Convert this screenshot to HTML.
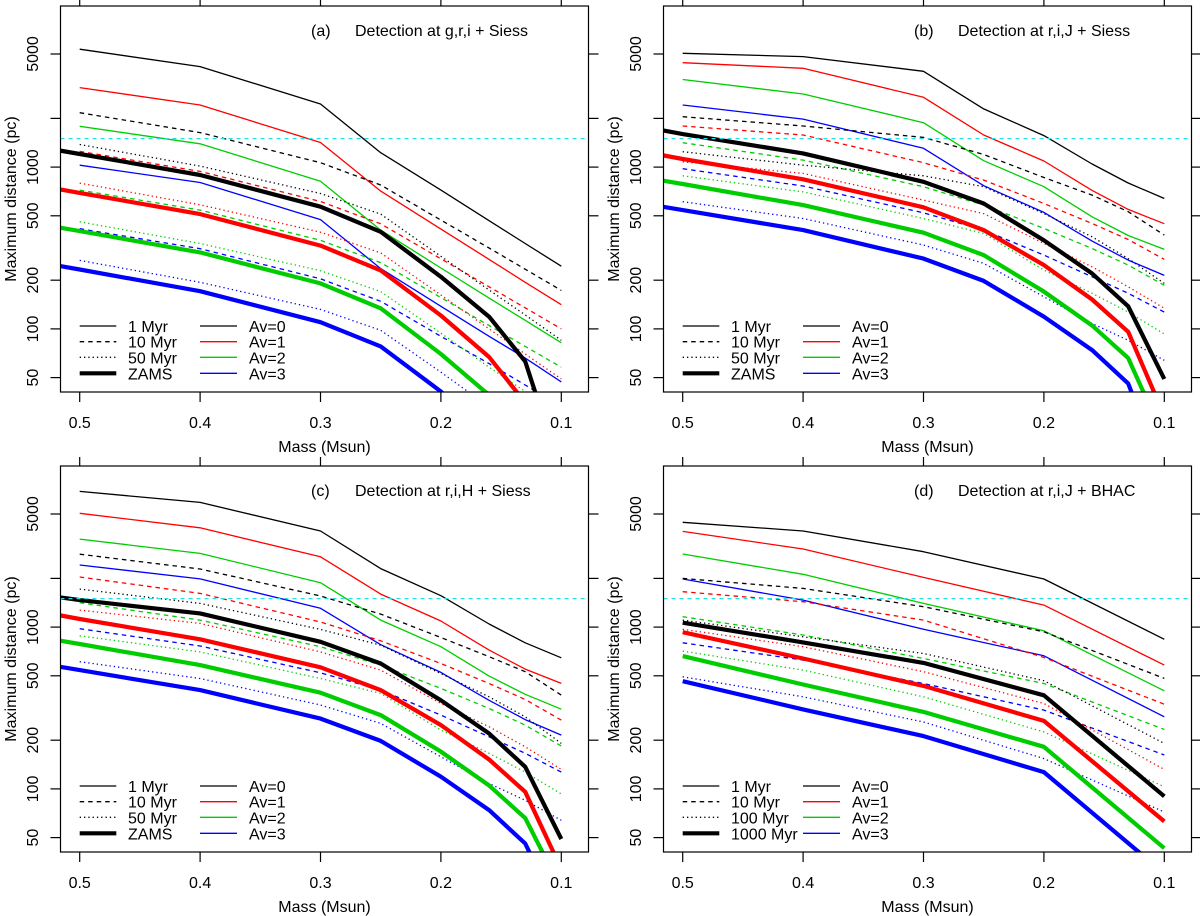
<!DOCTYPE html>
<html><head><meta charset="utf-8">
<style>
html,body{margin:0;padding:0;background:#fff;}
svg{display:block;font-family:"Liberation Sans",Arial,sans-serif;}
</style></head>
<body>
<svg id="chart" width="1200" height="916" viewBox="0 0 1200 916" xmlns="http://www.w3.org/2000/svg"></svg>
<script>
// ---------- data ----------
const massGrid = [0.5,0.4,0.3,0.25,0.2,0.16,0.13,0.1];
const massZams = [0.6,0.5,0.4,0.3,0.25,0.2,0.16,0.13,0.1];
const massD = [0.5,0.4,0.3,0.2,0.1];
const xTicks = [0.5,0.4,0.3,0.2,0.1];
const xTickLabels = ["0.5","0.4","0.3","0.2","0.1"];
const yTicks = [5000,2000,1000,500,200,100,50];
const yTickLabels = ["5000","","1000","500","200","100","50"];
const limitDistance = 1500;

// panel (a) g,r,i + Siess : rows Av=0..3
const a1Myr = [[5350,4180,2455,1227,721,466,337,244],[3100,2420,1420,711,414,269,194,141],[1786,1394,818,408,238,155,113,82],[1028,803,474,236,138,90,66,47]];
const a10Myr = [[2170,1633,1065,775,470,316,234,173],[1250,940,613,446,271,182,135,100],[721,542,353,257,156,105,78,58],[416,313,204,148,90,61,45,33]];
const a50Myr = [[1380,1014,687,512,281,174,122,85],[796,585,396,295,162,100,70,49],[459,337,229,170,94,58,41,28],[265,194,132,98,54,33,23,16]];
const aZams = [[1620,1205,893,569,398,210,119,63,13],[935,693,512,327,230,121,67,35,7.5],[542,402,297,191,134,70,39,20,4.7],[314,233,171,110,78,41,20,9.5,3]];
// panel (b) r,i,J + Siess
const b1Myr = [[5050,4820,3910,2290,1565,1045,797,640],[4420,4080,2700,1580,1090,718,548,447],[3480,2830,1880,1095,756,493,378,310],[2420,1980,1306,767,525,349,266,214]];
const b10Myr = [[2050,1794,1526,1197,862,671,530,380],[1794,1578,1064,831,596,448,357,269],[1416,1105,756,582,418,314,248,186],[977,764,522,408,286,210,166,127]];
const b50Myr = [[1245,1028,883,756,516,371,272,191],[1079,914,625,516,337,242,182,134],[883,703,481,389,231,166,127,93],[611,481,330,254,158,108,85,64]];
const bZams = [[2200,1600,1216,811,596,353,220,138,49],[1541,1122,840,564,408,248,152,96,29],[1054,786,582,393,286,170,105,66,21],[721,542,408,272,198,119,74,46,12]];
// panel (c) r,i,H + Siess
const c1Myr = [[6900,5900,3925,2300,1563,1045,800,646],[5050,4110,2720,1600,1090,721,550,449],[3500,2855,1880,1105,756,498,384,311],[2420,1985,1306,778,525,353,268,215]];
const c10Myr = [[2820,2285,1556,1203,862,656,530,380],[2040,1615,1075,823,596,448,357,266],[1416,1105,756,582,418,314,248,184],[977,764,522,408,286,210,166,127]];
const c50Myr = [[1717,1400,968,773,516,371,279,191],[1273,1054,703,542,337,242,182,132],[883,703,481,389,231,166,127,93],[611,481,330,254,158,108,85,64]];
const cZams = [[1862,1469,1216,811,596,353,220,137,49],[1541,1122,840,564,408,248,152,96,32],[1054,786,582,393,286,170,105,66,24],[721,542,408,272,198,119,74,46,16]];
// panel (d) r,i,J + BHAC
const d1Myr = [[4440,3925,2925,1982,840],[3905,3037,2027,1367,582],[2830,2120,1401,948,404],[1982,1469,969,665,279]];
const d10Myr = [[2000,1734,1336,935,482],[1655,1436,1105,649,334],[1159,893,640,448,233],[800,625,448,307,162]];
const d100Myr = [[1105,871,687,466,191],[969,756,530,337,132],[711,542,371,225,103],[493,371,259,154,72]];
const d1000Myr = [[1064,804,601,379,90],[930,640,433,263,63],[662,442,299,182,43],[463,310,212,127,30]];

const avColors = ["#000000","#ff0000","#00cd00","#0000ff"];
const avLabels = ["Av=0","Av=1","Av=2","Av=3"];

const panels = [
 {id:"a", ox:0, oy:0, title:"Detection at g,r,i + Siess", ages:["1 Myr","10 Myr","50 Myr","ZAMS"], sets:[a1Myr,a10Myr,a50Myr,aZams], masses:[massGrid,massGrid,massGrid,massZams]},
 {id:"b", ox:603, oy:0, title:"Detection at r,i,J + Siess", ages:["1 Myr","10 Myr","50 Myr","ZAMS"], sets:[b1Myr,b10Myr,b50Myr,bZams], masses:[massGrid,massGrid,massGrid,massZams]},
 {id:"c", ox:0, oy:460, title:"Detection at r,i,H + Siess", ages:["1 Myr","10 Myr","50 Myr","ZAMS"], sets:[c1Myr,c10Myr,c50Myr,cZams], masses:[massGrid,massGrid,massGrid,massZams]},
 {id:"d", ox:603, oy:460, title:"Detection at r,i,J + BHAC", ages:["1 Myr","10 Myr","100 Myr","1000 Myr"], sets:[d1Myr,d10Myr,d100Myr,d1000Myr], masses:[massD,massD,massD,massD]}
];
const ageStyles = [{w:1.3,dash:null},{w:1.3,dash:"4.5,4"},{w:1.3,dash:"1.3,3"},{w:4.2,dash:null}];

// ---------- drawing ----------
const NS = "http://www.w3.org/2000/svg";
const svg = document.getElementById("chart");
function mk(tag, attrs, parent){
  const e = document.createElementNS(NS, tag);
  for (const k in attrs) e.setAttribute(k, attrs[k]);
  (parent||svg).appendChild(e);
  return e;
}
const FL = 60.5, FR = 588.5, FT = 6, FB = 392;
function xScale(p, m){ return p.ox + 79.7 + (0.5 - m) * 1204; }
function yScale(p, v){ return p.oy + 54 + (Math.log10(5000) - Math.log10(v)) * 161.8; }

panels.forEach(function(p){
  const g = mk("g", {});
  
  
  const clipId = "clip-" + p.id;
  const cp = mk("clipPath", {id: clipId}, g);
  mk("rect", {x: p.ox+FL, y: p.oy+FT, width: FR-FL, height: FB-FT}, cp);
  const plot = mk("g", {"clip-path": "url(#"+clipId+")"}, g);
  
  

  // series
  p.sets.forEach(function(set, ai){
    set.forEach(function(vals, vi){
      const ms = p.masses[ai];
      const pts = vals.map(function(v, i){ return xScale(p, ms[i]).toFixed(1) + "," + yScale(p, v).toFixed(1); }).join(" ");
      const st = ageStyles[ai];
      const pl = mk("polyline", {points: pts, fill: "none", stroke: avColors[vi], "stroke-width": st.w, "stroke-linejoin": "round"}, plot);
      if (st.dash) pl.setAttribute("stroke-dasharray", st.dash);
      
      
    });
  });
  // cyan threshold line
  const cy = yScale(p, limitDistance);
  const cl = mk("line", {x1: p.ox+FL, x2: p.ox+FR, y1: cy, y2: cy, stroke: "#22e0e6", "stroke-width": 1.3, "stroke-dasharray": "4,4"}, plot);
  
  

  // frame
  const fr = mk("rect", {x: p.ox+FL, y: p.oy+FT, width: FR-FL, height: FB-FT, fill: "none", stroke: "#000", "stroke-width": 1.2}, g);
  
  

  // x ticks
  xTicks.forEach(function(m, i){
    const x = xScale(p, m);
    mk("line", {x1:x, x2:x, y1:p.oy+FB, y2:p.oy+FB+10, stroke:"#000", "stroke-width":1.2}, g);
    mk("line", {x1:x, x2:x, y1:p.oy+FT, y2:p.oy+FT-9, stroke:"#000", "stroke-width":1.2}, g);
    const t = mk("text", {x:x, y:p.oy+428, "text-anchor":"middle", "font-size":16, fill:"#000"}, g);
    t.textContent = xTickLabels[i];
    
    
  });
  // y ticks
  yTicks.forEach(function(v, i){
    const y = yScale(p, v);
    mk("line", {x1:p.ox+FL-10, x2:p.ox+FL, y1:y, y2:y, stroke:"#000", "stroke-width":1.2}, g);
    mk("line", {x1:p.ox+FR, x2:p.ox+FR+10, y1:y, y2:y, stroke:"#000", "stroke-width":1.2}, g);
    if (yTickLabels[i]) {
      const t = mk("text", {x:0, y:0, transform:"translate("+(p.ox+38)+","+y+") rotate(-90)", "text-anchor":"middle", "font-size":16, fill:"#000"}, g);
      t.textContent = yTickLabels[i];
      
      
    }
  });
  // axis titles
  const xt = mk("text", {x:p.ox+(FL+FR)/2, y:p.oy+452, "text-anchor":"middle", "font-size":16, fill:"#000"}, g);
  xt.textContent = "Mass (Msun)";
  
  
  const yt = mk("text", {x:0, y:0, transform:"translate("+(p.ox+16)+","+(p.oy+(FT+FB)/2)+") rotate(-90)", "text-anchor":"middle", "font-size":16, fill:"#000"}, g);
  yt.textContent = "Maximum distance (pc)";
  
  

  // panel title
  const lab = mk("text", {x:p.ox+311, y:p.oy+36, "font-size":16, fill:"#000"}, g);
  lab.textContent = "(" + p.id + ")";
  
  
  const tt = mk("text", {x:p.ox+355, y:p.oy+36, "font-size":16, fill:"#000"}, g);
  tt.textContent = p.title;
  
  

  // legend
  const rows = [326, 341.7, 357.3, 373.3];
  const lg = mk("g", {}, g);
  
  
  rows.forEach(function(ry, i){
    const y = p.oy + ry;
    const st = ageStyles[i];
    const l1 = mk("line", {x1:p.ox+79.7, x2:p.ox+116.3, y1:y, y2:y, stroke:"#000", "stroke-width":st.w}, lg);
    if (st.dash) l1.setAttribute("stroke-dasharray", st.dash);
    
    
    const t1 = mk("text", {x:p.ox+128, y:y+6, "font-size":16, fill:"#000"}, lg);
    t1.textContent = p.ages[i];
    
    
    const l2 = mk("line", {x1:p.ox+200, x2:p.ox+237, y1:y, y2:y, stroke:avColors[i], "stroke-width":1.3}, lg);
    
    
    const t2 = mk("text", {x:p.ox+249, y:y+6, "font-size":16, fill:"#000"}, lg);
    t2.textContent = avLabels[i];
    
    
  });
});
</script>
</body></html>
